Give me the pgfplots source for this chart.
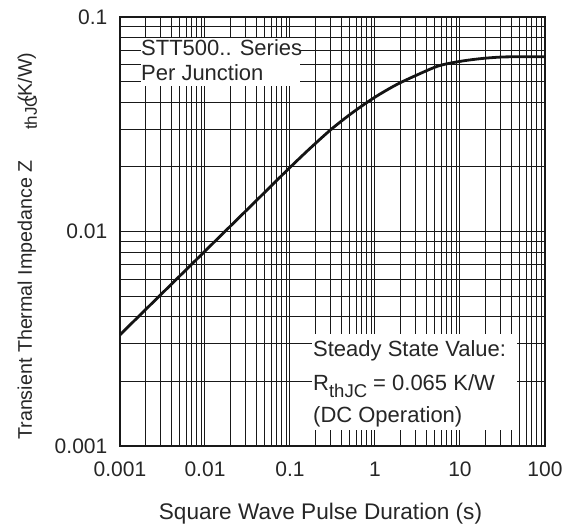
\documentclass[border=0pt]{standalone}
\usepackage{fontspec}
\setmainfont{Liberation Sans}
\usepackage{pgfplots}
\pgfplotsset{compat=1.18}
\pgfplotstableread{
x y
0.001 0.0033
0.001778 0.00413
0.003162 0.00517
0.005623 0.00647
0.01 0.0081
0.01778 0.01014
0.03162 0.01269
0.05623 0.01589
0.1 0.0199
0.1778 0.0247
0.3162 0.0303
0.5623 0.03618
1 0.0423
1.778 0.0483
3.162 0.0538
5.623 0.0592
10 0.0621
17.78 0.0640
31.62 0.0651
56.23 0.06523
100 0.0653
}\curvedata
\newcommand{\bigf}{\fontsize{22}{26}\selectfont}
\begin{document}
\begin{tikzpicture}
\path[use as bounding box] (-120pt,-80pt) rectangle (451pt,446pt);
\begin{axis}[
  xmode=log, ymode=log,
  scale only axis, width=425pt, height=429pt,
  xmin=0.001, xmax=100, ymin=0.001, ymax=0.1,
  xtick={0.001,0.01,0.1,1,10,100},
  xticklabels={0.001,0.01,0.1,1,10,100},
  ytick={0.001,0.01,0.1},
  yticklabels={0.001,0.01,0.1},
  grid=both,
  major grid style={black!90, line width=1pt},
  minor grid style={black!90, line width=1pt},
  major tick length=0pt, minor tick length=0pt,
  axis line style={black!90, line width=1.2pt},
  /pgf/number format/assume math mode=true,
  tick label style={font=\fontsize{21}{25}\selectfont, text=black!85},
  xticklabel style={anchor=center, yshift=-23.5pt, inner sep=0pt},
  yticklabel style={anchor=east, xshift=-12.5pt, inner sep=0pt},
]
\fill[white] (rel axis cs:0.0494,0.839) rectangle (rel axis cs:0.4235,0.951);
\fill[white] (rel axis cs:0.4518,0.0373) rectangle (rel axis cs:0.934,0.261);
\addplot[black!92, line width=2.8pt, smooth, tension=0.5] table[x=x,y=y] {\curvedata};
\node[anchor=base west, inner sep=0pt, font=\bigf, text=black!85] at (rel axis cs:0.0494,0.9114) {STT500.. Series};
\node[anchor=base west, inner sep=0pt, font=\bigf, text=black!85] at (rel axis cs:0.0494,0.8531) {Per Junction};
\node[anchor=base west, inner sep=0pt, font=\bigf, text=black!85] at (rel axis cs:0.4541,0.2082) {Steady State Value:};
\node[anchor=base west, inner sep=0pt, font=\bigf, text=black!85] at (rel axis cs:0.4541,0.1305) {R\raisebox{-7pt}{\fontsize{18.5}{18.5}\selectfont thJC} = 0.065 K/W};
\node[anchor=base west, inner sep=0pt, font=\bigf, text=black!85] at (rel axis cs:0.4541,0.0559) {(DC Operation)};
\end{axis}
\node[rotate=90, anchor=base west, inner sep=0pt, font=\fontsize{19.7}{23}\selectfont, text=black!85] at (-88pt,6pt) {Transient Thermal Impedance Z};
\node[rotate=90, anchor=base west, inner sep=0pt, font=\fontsize{17}{20}\selectfont, text=black!85] at (-83pt,316pt) {thJC};
\node[rotate=90, anchor=base west, inner sep=0pt, font=\fontsize{19.7}{23}\selectfont, text=black!85] at (-88pt,343pt) {(K/W)};
\node[anchor=base, inner sep=0pt, font=\fontsize{22.6}{26}\selectfont, text=black!85] at (200.5pt,-74pt) {Square Wave Pulse Duration (s)};
\end{tikzpicture}
\end{document}
